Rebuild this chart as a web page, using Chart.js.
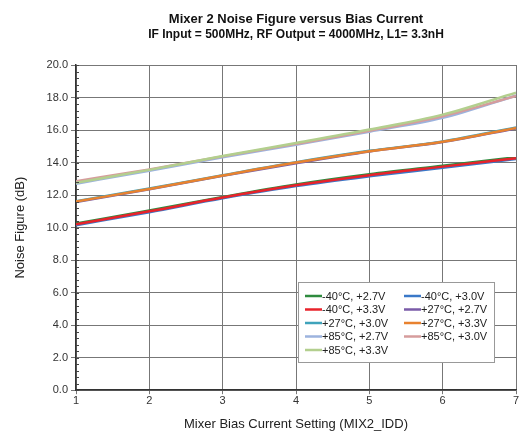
<!DOCTYPE html>
<html>
<head>
<meta charset="utf-8">
<script src="https://cdn.jsdelivr.net/npm/chart.js@4/dist/chart.umd.min.js"></script>
<style>
  html, body { margin: 0; padding: 0; background: #fff; }
  #wrap { width: 520px; height: 436px; position: relative; }
</style>
</head>
<body>
<div id="wrap"><canvas id="grafica"></canvas></div>
<script>
// bias current settings
const labels = [1, 2, 3, 4, 5, 6, 7]

// noise figure (dB)
const m40_27 = [10.25, 11.05, 11.88, 12.65, 13.28, 13.8, 14.32]
const m40_30 = [10.15, 10.95, 11.8, 12.55, 13.15, 13.68, 14.22]
const m40_33 = [10.2, 11.0, 11.85, 12.6, 13.22, 13.75, 14.27]
const p27_27 = [11.58, 12.36, 13.18, 13.96, 14.68, 15.26, 16.1]
const p27_30 = [11.62, 12.4, 13.22, 14.02, 14.72, 15.3, 16.16]
const p27_33 = [11.6, 12.38, 13.2, 14.0, 14.7, 15.28, 16.13]
const p85_27 = [12.7, 13.5, 14.32, 15.1, 15.9, 16.75, 18.12]
const p85_30 = [12.85, 13.58, 14.38, 15.15, 15.95, 16.85, 18.1]
const p85_33 = [12.75, 13.55, 14.4, 15.2, 16.03, 16.95, 18.3]

const seriesNames = [
  '-40°C, +2.7V', '-40°C, +3.0V', '-40°C, +3.3V',
  '+27°C, +2.7V', '+27°C, +3.0V', '+27°C, +3.3V',
  '+85°C, +2.7V', '+85°C, +3.0V', '+85°C, +3.3V'
]
const seriesData = [m40_27, m40_30, m40_33, p27_27, p27_30, p27_33, p85_27, p85_30, p85_33]
const colores = ['#2e8b3e', '#3a78c8', '#e8232b', '#7a5ba8', '#3fa3bb', '#e8822f', '#9cb3de', '#d69c9c', '#b3cf8e']

// draw order: back to front like the original
const drawOrder = [1, 0, 2, 3, 4, 5, 6, 7, 8]

const datasets = seriesData.map((d, i) => ({
  label: seriesNames[i],
  data: d,
  borderColor: colores[i],
  backgroundColor: colores[i],
  borderWidth: 2.5,
  pointRadius: 0,
  tension: 0.35,
  cubicInterpolationMode: 'monotone',
  order: 9 - drawOrder.indexOf(i)
}))

// minor ticks on y axis + boxed legend inside the plot
const extras = {
  id: 'extras',
  afterDraw(chart) {
    const c = chart.ctx
    const y = chart.scales.y
    const a = chart.chartArea
    c.save()
    c.strokeStyle = '#444'
    c.lineWidth = 1
    for (let v = 0; v <= 20.001; v += 0.4) {
      const py = Math.round(y.getPixelForValue(v)) + 0.5
      c.beginPath()
      c.moveTo(a.left, py)
      c.lineTo(a.left + 3, py)
      c.stroke()
    }
    // legend box
    const bx = a.left + 222, by = a.top + 217, bw = 196, bh = 80
    c.fillStyle = '#fff'
    c.fillRect(bx, by, bw, bh)
    c.strokeStyle = '#999'
    c.strokeRect(bx + 0.5, by + 0.5, bw, bh)
    c.font = '11px "Liberation Sans", Arial, sans-serif'
    c.textBaseline = 'middle'
    c.fillStyle = '#222'
    seriesNames.forEach((n, i) => {
      const col = i % 2, row = Math.floor(i / 2)
      const lx = bx + 7 + col * 99
      const ly = by + 14 + row * 13.5
      c.strokeStyle = colores[i]
      c.lineWidth = 2.5
      c.beginPath()
      c.moveTo(lx, ly)
      c.lineTo(lx + 17, ly)
      c.stroke()
      c.fillText(n, lx + 17, ly + 0.5)
    })
    c.restore()
  }
}

const ctx = document.getElementById('grafica')
new Chart(ctx, {
  type: 'line',
  data: { labels: labels, datasets: datasets },
  options: {
    responsive: true,
    maintainAspectRatio: false,
    animation: false,
    layout: { padding: { top: 8, right: 4, left: 9, bottom: 0 } },
    scales: {
      x: {
        type: 'linear',
        min: 1,
        max: 7,
        ticks: { stepSize: 1, color: '#333', font: { size: 11, family: '"Liberation Sans", Arial' }, padding: 0 },
        grid: { color: '#777', tickLength: 4 },
        border: { color: '#333', width: 1.5 },
        title: { display: true, text: 'Mixer Bias Current Setting (MIX2_IDD)', color: '#222', font: { size: 13, family: '"Liberation Sans", Arial' }, padding: { top: 9 } }
      },
      y: {
        min: 0,
        max: 20,
        ticks: { stepSize: 2, color: '#333', font: { size: 11, family: '"Liberation Sans", Arial' }, callback: v => v.toFixed(1), padding: 3 },
        grid: { color: '#777', tickLength: 5 },
        border: { color: '#333', width: 1.5 },
        title: { display: true, text: 'Noise Figure (dB)', color: '#222', font: { size: 13, family: '"Liberation Sans", Arial' }, padding: { top: 4, bottom: 15 } }
      }
    },
    plugins: {
      legend: { display: false },
      tooltip: { enabled: false },
      title: {
        display: true,
        fullSize: false,
        text: 'Mixer 2 Noise Figure versus Bias Current',
        color: '#111',
        font: { size: 13, weight: 'bold', family: '"Liberation Sans", Arial' },
        padding: { top: 4, bottom: 0 }
      },
      subtitle: {
        display: true,
        fullSize: false,
        text: 'IF Input = 500MHz, RF Output = 4000MHz, L1= 3.3nH',
        color: '#111',
        font: { size: 12, weight: 'bold', family: '"Liberation Sans", Arial' },
        padding: { bottom: 23 }
      }
    }
  },
  plugins: [extras]
})
</script>
</body>
</html>
